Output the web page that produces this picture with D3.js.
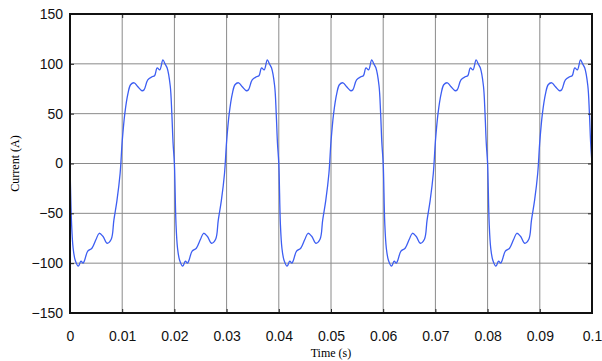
<!DOCTYPE html>
<html>
<head>
<meta charset="utf-8">
<script src="https://cdn.jsdelivr.net/npm/d3@7"></script>
<style>
  body { margin: 0; background: #fff; }
  svg { display: block; }
  .tick text { font-family: "Liberation Sans", Arial, sans-serif; font-size: 14px; fill: #111; }
</style>
</head>
<body>
<div id="chart"></div>
<script>
let width = 602, height = 361;
let margin = { top: 14, right: 10, bottom: 48, left: 70 };

// one period of the current wave (ms, A)
const periodMs = [0, 0.3, 0.6, 1.0, 1.6, 2.1, 2.5, 2.8, 3.4, 4.2, 5.0, 5.6, 6.3, 7.1, 7.9, 8.4, 9.0, 9.6, 10.0, 10.5, 11.1, 11.6, 12.3, 13.0, 13.8, 14.2, 14.9, 15.7, 16.2, 16.7, 17.2, 17.8, 18.2, 18.6, 19.2, 19.5, 19.75];
const periodAmps = [0, -60, -85, -97, -103, -98, -100, -97, -88, -85, -76, -70, -73, -80, -76, -57, -37, -10, 22, 50, 70, 79, 81, 77, 73, 74, 84, 87, 88, 96, 94, 104, 100, 96, 78, 51, 20];
const periods = [0, 1, 2, 3, 4];
const periodLen = 0.02;

const xTicks = [0, 0.01, 0.02, 0.03, 0.04, 0.05, 0.06, 0.07, 0.08, 0.09, 0.1];
const yTicks = [-150, -100, -50, 0, 50, 100, 150];

let data = [];
periods.forEach((p) => {
  periodMs.forEach((t, i) => {
    data.push({ t: p * periodLen + t / 1000, i: periodAmps[i] });
  });
});
data.push({ t: 0.1, i: periodAmps[0] });

const x = d3.scaleLinear().domain([0, 0.1]).range([margin.left, width - margin.right]);
const y = d3.scaleLinear().domain([-150, 150]).range([height - margin.bottom, margin.top]);

const svg = d3.select("#chart").append("svg")
  .attr("width", width)
  .attr("height", height);

// grid
svg.append("g")
  .selectAll("line.vg")
  .data(xTicks)
  .join("line")
  .attr("x1", (d) => x(d)).attr("x2", (d) => x(d))
  .attr("y1", y(150)).attr("y2", y(-150))
  .attr("stroke", "#8a8a8a").attr("stroke-width", 1);
svg.append("g")
  .selectAll("line.hg")
  .data(yTicks)
  .join("line")
  .attr("x1", x(0)).attr("x2", x(0.1))
  .attr("y1", (d) => y(d)).attr("y2", (d) => y(d))
  .attr("stroke", "#8a8a8a").attr("stroke-width", 1);

// the wave
const line = d3.line()
  .x((d) => x(d.t))
  .y((d) => y(d.i))
  .curve(d3.curveCatmullRom.alpha(0.5));

svg.append("path")
  .datum(data)
  .attr("fill", "none")
  .attr("stroke", "#3d5ef2")
  .attr("stroke-width", 1.3)
  .attr("d", line);

// axes
const fmtX = (d) => (d === 0 ? "0" : d === 0.1 ? "0.1" : d3.format(".2f")(d));

svg.append("g")
  .attr("transform", `translate(0,${y(-150)})`)
  .call(d3.axisBottom(x).tickValues(xTicks).tickFormat(fmtX).tickSize(-4).tickPadding(18))
  .call((g) => g.select(".domain").remove())
  .call((g) => g.selectAll(".tick line").attr("stroke", "#222"));

svg.append("g")
  .attr("transform", `translate(${x(0)},0)`)
  .call(d3.axisLeft(y).tickValues(yTicks).tickSize(-4).tickPadding(7))
  .call((g) => g.select(".domain").remove())
  .call((g) => g.selectAll(".tick line").attr("stroke", "#222"));

svg.append("g")
  .attr("transform", `translate(0,${y(150)})`)
  .call(d3.axisTop(x).tickValues(xTicks).tickFormat("").tickSize(-4))
  .call((g) => g.select(".domain").remove())
  .call((g) => g.selectAll(".tick line").attr("stroke", "#222"));

svg.append("g")
  .attr("transform", `translate(${x(0.1)},0)`)
  .call(d3.axisRight(y).tickValues(yTicks).tickFormat("").tickSize(-4))
  .call((g) => g.select(".domain").remove())
  .call((g) => g.selectAll(".tick line").attr("stroke", "#222"));

// frame
svg.append("rect")
  .attr("x", x(0)).attr("y", y(150))
  .attr("width", x(0.1) - x(0))
  .attr("height", y(-150) - y(150))
  .attr("fill", "none")
  .attr("stroke", "#111")
  .attr("stroke-width", 2);

// labels
svg.append("text")
  .attr("x", (x(0) + x(0.1)) / 2)
  .attr("y", 357)
  .attr("text-anchor", "middle")
  .attr("font-family", "'Liberation Serif', 'Times New Roman', serif")
  .attr("font-size", 12)
  .text("Time (s)");

svg.append("text")
  .attr("transform", `translate(19,${y(0)}) rotate(-90)`)
  .attr("text-anchor", "middle")
  .attr("font-family", "'Liberation Serif', 'Times New Roman', serif")
  .attr("font-size", 12)
  .text("Current (A)");
</script>
</body>
</html>
